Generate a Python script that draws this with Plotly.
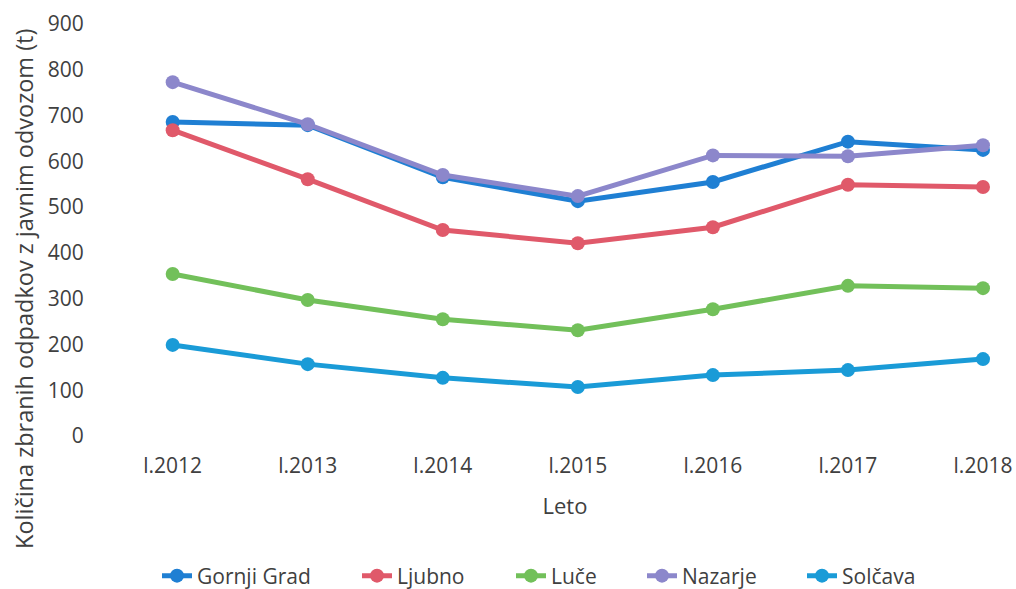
import plotly.graph_objects as go

years = ["l.2012", "l.2013", "l.2014", "l.2015", "l.2016", "l.2017", "l.2018"]
gornji_grad = [686, 679, 565, 513, 555, 643, 625]
ljubno = [668, 561, 450, 421, 456, 549, 544]
luce = [354, 297, 255, 231, 277, 328, 323]
nazarje = [773, 681, 570, 524, 613, 611, 635]
solcava = [199, 157, 127, 107, 133, 144, 168]

series = [
    ("Gornji Grad", gornji_grad, "#1f7fd3"),
    ("Ljubno", ljubno, "#e0596a"),
    ("Luče", luce, "#72c05a"),
    ("Nazarje", nazarje, "#8c87cb"),
    ("Solčava", solcava, "#1a9bd7"),
]

FONT = "Open Sans"
W, H = 1016, 589
L, R, T, B = 120, 6, 24, 153
PW, PH = W - L - R, H - T - B

# legend text start positions in the reference (px)
legend_text_x = [198, 398, 552, 683, 843]
LEG_Y = 576

fig = go.Figure()
legend_layouts = {}
for i, (name, vals, col) in enumerate(series):
    lname = "legend" if i == 0 else f"legend{i+1}"
    fig.add_trace(go.Scatter(
        x=years, y=vals, name=name, mode="lines+markers",
        line=dict(color=col, width=5),
        marker=dict(color=col, size=14),
        legend=lname,
    ))
    xpx = legend_text_x[i] - 41
    legend_layouts[lname] = dict(
        orientation="h", x=(xpx - L) / PW, xanchor="left",
        y=-(LEG_Y - (T + PH)) / PH, yanchor="middle",
        font=dict(size=21, color="#404040"), bgcolor="rgba(0,0,0,0)",
    )

fig.update_layout(
    width=W, height=H,
    paper_bgcolor="white", plot_bgcolor="white",
    margin=dict(l=L, r=R, t=T, b=B, autoexpand=False),
    font=dict(family=FONT, size=21, color="#404040"),
    showlegend=True,
    xaxis=dict(type="category", range=[-0.39, 6.2], showgrid=False,
               showline=False, zeroline=False, ticks="outside", ticklen=11,
               tickcolor="rgba(0,0,0,0)", automargin=False,
               tickfont=dict(size=21),
               title=dict(text="Leto", font=dict(size=22, color="#404040"), standoff=20)),
    yaxis=dict(range=[0, 900], dtick=100, showgrid=False, showline=False,
               zeroline=False, ticks="outside", ticklen=31, automargin=False,
               tickfont=dict(size=21),
               tickcolor="rgba(0,0,0,0)"),
    annotations=[dict(text="Količina zbranih odpadkov z javnim odvozom (t)",
                      textangle=-90, xref="paper", yref="paper",
                      x=(24 - L) / PW, y=(T + PH - 289) / PH,
                      xanchor="center", yanchor="middle",
                      showarrow=False, font=dict(size=23.5, color="#404040"))],
    **legend_layouts,
)

fig.write_html("out.html", config={"displayModeBar": False},
               post_script="document.body.style.margin='0';document.body.style.overflow='hidden';")
